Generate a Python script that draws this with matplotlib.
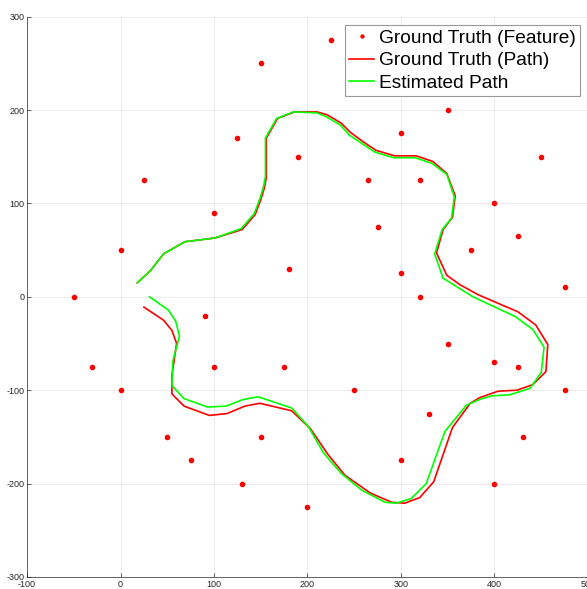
import numpy as np
import matplotlib.pyplot as plt

## Donnees

# Amers (features) vrais
feat_x = [-50, -30, 0, 0, 25, 50, 75, 90, 100, 100, 125, 130, 150, 150, 175, 180, 190, 200, 225, 250,
          265, 275, 300, 300, 300, 320, 320, 330, 350, 350, 375, 400, 400, 400, 425, 425, 430, 450, 475, 475]
feat_y = [0, -75, -100, 50, 125, -150, -175, -20, 90, -75, 170, -200, 250, -150, -75, 30, 150, -225, 275, -100,
          125, 75, 175, 25, -175, 125, 0, -125, 200, -50, 50, 100, -70, -200, 65, -75, -150, 150, 10, -100]

# Trajectoire vraie
gt_x = [18, 32, 46, 69, 101, 130, 144, 150, 154, 156, 156, 168, 186, 210, 221, 236, 246, 261, 273, 293,
        316, 334, 349, 358, 355, 345, 338, 349, 363, 383, 425, 444, 457, 455, 441, 424, 404, 384, 374, 355,
        335, 320, 304, 290, 267, 240, 222, 203, 183, 149, 133, 114, 95, 68, 55, 55, 60, 55, 46, 25]
gt_y = [15, 28, 46, 59, 63, 72, 88, 104, 117, 128, 170, 191, 198, 198, 195, 186, 176, 165, 157, 151,
        151, 145, 132, 108, 85, 72, 47, 23, 13, 2, -16, -30, -51, -80, -94, -100, -101, -108, -114, -140,
        -198, -215, -221, -220, -210, -191, -169, -141, -122, -114, -117, -125, -127, -117, -104, -84, -50, -36, -25, -11]

# Trajectoire estimee
est_x = [18, 32, 46, 69, 101, 129, 143, 149, 153, 155, 155, 167, 185, 210, 220, 235, 245, 260, 272, 292,
         315, 333, 349, 357, 354, 344, 336, 345, 377, 422, 441, 453, 450, 438, 416, 397, 384, 370, 347, 327,
         311, 295, 283, 258, 236, 217, 201, 183, 147, 131, 113, 93, 68, 55, 56, 63, 59, 51, 31]
est_y = [15, 28, 46, 59, 63, 73, 89, 105, 118, 129, 170, 191, 198, 197, 193, 184, 173, 163, 155, 149,
         149, 143, 131, 107, 84, 72, 46, 20, 0, -21, -35, -54, -81, -98, -105, -106, -110, -116, -144, -200,
         -216, -221, -220, -207, -189, -167, -139, -119, -107, -110, -117, -118, -109, -95, -69, -42, -26, -14, 0]

plt.rcParams['font.family'] = ['Liberation Sans', 'DejaVu Sans']
plt.rcParams['axes.unicode_minus'] = False  # tirets simples comme sur l'original

fig = plt.figure(figsize=[5.87, 5.89], dpi=100)
ax = fig.add_axes([0.046, 0.0204, 0.9557, 0.9513])

ax.plot(feat_x, feat_y, 'o', color=(1, 0, 0), markersize=3.0, label="Ground Truth (Feature)")
ax.plot(gt_x, gt_y, '-', color=(1, 0, 0), linewidth=1.2, label="Ground Truth (Path)")
ax.plot(est_x, est_y, '-', color=(0, 1, 0), linewidth=1.2, label="Estimated Path")

ax.set_xlim(-100, 500)
ax.set_ylim(-300, 300)
ax.set_xticks(np.arange(-100, 501, 100))
ax.set_yticks(np.arange(-300, 301, 100))
ax.grid(True, color=(0.15, 0.15, 0.15), alpha=0.12, linewidth=0.5)
ax.set_axisbelow(True)
ax.tick_params(direction='in', length=3, width=0.5, labelsize=6.5, colors=(0.15, 0.15, 0.15), pad=2)
for s in ['top', 'right']:
    ax.spines[s].set_visible(False)
for s in ['left', 'bottom']:
    ax.spines[s].set_color((0.15, 0.15, 0.15))
    ax.spines[s].set_linewidth(0.5)

leg = ax.legend(loc='upper right', bbox_to_anchor=(580/587, 1-25/589), bbox_transform=fig.transFigure,
                fontsize=13.8, fancybox=False, framealpha=1, edgecolor=(0.6, 0.6, 0.6), borderaxespad=0,
                handlelength=1.3, handletextpad=0.25, labelspacing=0.28, borderpad=0.22, markerscale=0.7)
leg.get_frame().set_linewidth(0.8)

fig.savefig("out.png", dpi=100)
